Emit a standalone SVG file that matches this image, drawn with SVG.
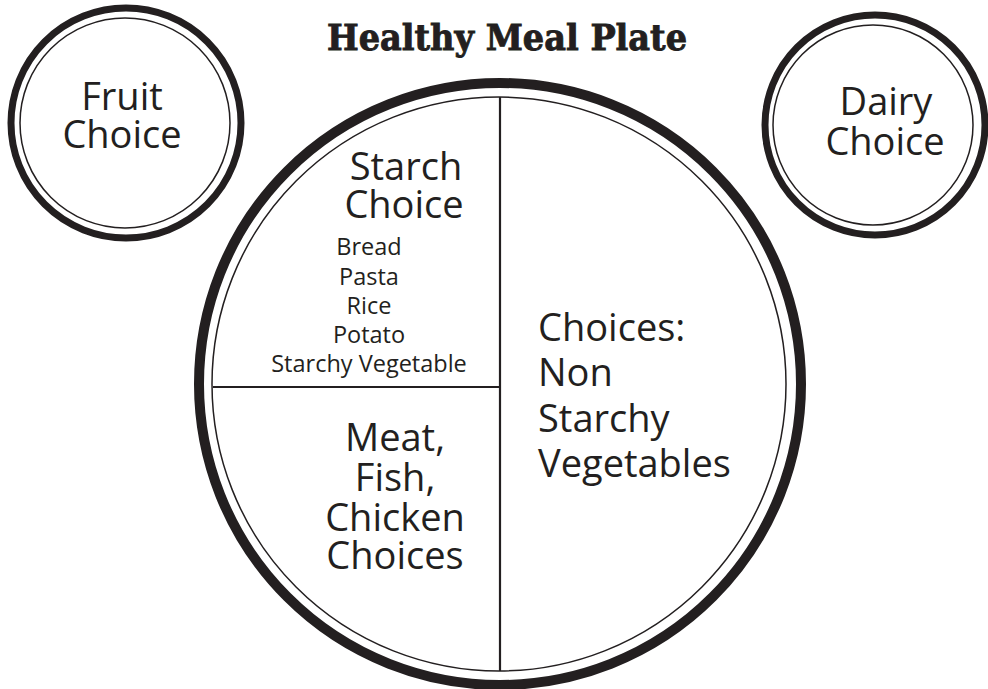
<svg xmlns="http://www.w3.org/2000/svg" width="988" height="689" viewBox="0 0 988 689">
  <style>
    .bg { fill: #ffffff; }
    .rim { fill: none; stroke: #231f20; }
    .side { stroke-width: 7; }
    .thin { stroke-width: 1.5; }
    .divider { stroke: #231f20; stroke-width: 2.2; fill: none; }
    .label { font-family: "Open Sans", "DejaVu Sans", sans-serif; fill: #231f20; text-anchor: middle; }
    .left { text-anchor: start; }
    .big { font-size: 38px; }
    .item { font-size: 23.5px; }
    .title { font-family: "DejaVu Serif", "Liberation Serif", serif; font-weight: bold; font-size: 35px; fill: #231f20; stroke: #231f20; stroke-width: 0.9; text-anchor: middle; }
  </style>
  <rect class="bg" x="0" y="0" width="988" height="689"/>

  <text class="title" x="507" y="50" textLength="360" lengthAdjust="spacingAndGlyphs">Healthy Meal Plate</text>

  <!-- side plates -->
  <g id="fruit">
    <circle class="rim side" cx="126" cy="123" r="115"/>
    <circle class="rim thin" cx="125" cy="123" r="105"/>
    <text class="label big" x="122" y="110">Fruit</text>
    <text class="label big" x="122" y="148">Choice</text>
  </g>

  <g id="dairy">
    <circle class="rim side" cx="875" cy="125" r="110"/>
    <circle class="rim thin" cx="873" cy="125" r="100"/>
    <text class="label big" x="886" y="115">Dairy</text>
    <text class="label big" x="885" y="155">Choice</text>
  </g>

  <!-- main plate -->
  <g id="plate">
    <circle class="rim" cx="500" cy="384" r="301" stroke-width="10"/>
    <circle class="rim thin" cx="499" cy="384" r="287"/>
  </g>

  <g id="dividers">
    <line class="divider" x1="500" y1="97" x2="500" y2="671"/>
    <line class="divider" x1="213" y1="387" x2="500" y2="387"/>
  </g>

  <g id="starch">
    <text class="label big" x="406" y="180">Starch</text>
    <text class="label big" x="404" y="218">Choice</text>
    <text class="label item" x="369" y="255">Bread</text>
    <text class="label item" x="369" y="285">Pasta</text>
    <text class="label item" x="369" y="314">Rice</text>
    <text class="label item" x="369" y="343">Potato</text>
    <text class="label item" x="369" y="372">Starchy Vegetable</text>
  </g>

  <g id="vegetables">
    <text class="label left big" x="538" y="341">Choices:</text>
    <text class="label left big" x="538" y="386">Non</text>
    <text class="label left big" x="538" y="432">Starchy</text>
    <text class="label left big" x="538" y="477">Vegetables</text>
  </g>

  <g id="protein">
    <text class="label big" x="395" y="451">Meat,</text>
    <text class="label big" x="395" y="491">Fish,</text>
    <text class="label big" x="395" y="531">Chicken</text>
    <text class="label big" x="395" y="569">Choices</text>
  </g>
</svg>
